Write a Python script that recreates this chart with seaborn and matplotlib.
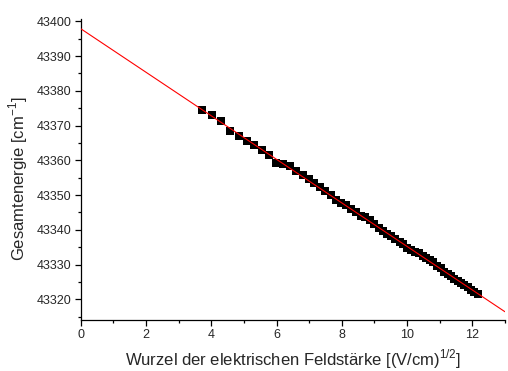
import numpy as np
import matplotlib
matplotlib.use('Agg')
import matplotlib.pyplot as plt
from matplotlib.ticker import MultipleLocator
import seaborn as sns

# measured points: sqrt of field strength vs. total energy
sqrt_field = [3.73, 4.02, 4.31, 4.58, 4.84, 5.08, 5.32, 5.55, 5.78, 5.99,
              6.20, 6.41, 6.61, 6.80, 6.98, 7.16, 7.33, 7.50, 7.67, 7.83,
              7.99, 8.14, 8.29, 8.44, 8.58, 8.72, 8.86, 9.00, 9.13, 9.26,
              9.39, 9.52, 9.64, 9.77, 9.89, 10.01, 10.13, 10.25, 10.36, 10.48,
              10.59, 10.70, 10.81, 10.92, 11.03, 11.14, 11.24, 11.35, 11.45, 11.55,
              11.66, 11.76, 11.86, 11.96, 12.06, 12.16]
energy = [43374.4, 43373.1, 43371.2, 43368.4, 43367.0, 43365.6, 43364.4, 43363.0, 43361.4, 43359.3,
          43359.0, 43358.3, 43356.9, 43355.8, 43354.5, 43353.6, 43352.3, 43351.2, 43349.9, 43348.6,
          43347.6, 43347.2, 43346.1, 43345.2, 43344.1, 43343.6, 43342.7, 43341.7, 43340.5, 43339.6,
          43338.9, 43338.1, 43337.4, 43336.5, 43335.8, 43334.8, 43334.2, 43333.5, 43333.2, 43332.6,
          43331.8, 43331.3, 43330.8, 43329.7, 43328.9, 43327.9, 43327.3, 43326.6, 43325.9, 43325.2,
          43324.6, 43324.0, 43323.5, 43322.7, 43322.2, 43321.5]

x, y = np.array(sqrt_field), np.array(energy)

# linear fit, drawn across the whole x range
slope, intercept = np.polyfit(x, y, 1)
x_fit = np.array([0, 13])
y_fit = intercept + slope * x_fit

sns.set_style('ticks')
plt.rcParams['font.family'] = ['Liberation Sans', 'DejaVu Sans']

fig = plt.figure(figsize=(5.08, 3.71), dpi=100)
ax = fig.add_axes([0.159, 0.137, 0.835, 0.811])

sns.scatterplot(x=x, y=y, marker='s', s=32, color='black', edgecolor='black',
                linewidth=0, ax=ax, zorder=2)
sns.lineplot(x=x_fit, y=y_fit, color='red', linewidth=0.8, ax=ax, zorder=3)

ax.set_xlim(0, 13)
ax.set_ylim(43314, 43400.6)
ax.xaxis.set_major_locator(MultipleLocator(2))
ax.xaxis.set_minor_locator(MultipleLocator(1))
ax.yaxis.set_major_locator(MultipleLocator(10))
ax.yaxis.set_minor_locator(MultipleLocator(5))
ax.ticklabel_format(axis='y', useOffset=False, style='plain')
ax.tick_params(which='major', direction='out', length=4, width=0.9, labelsize=9,
               pad=2.5, color='black')
ax.tick_params(which='minor', direction='out', length=2.5, width=0.9, color='black')
sns.despine(ax=ax)
for s in ['left', 'bottom']:
    ax.spines[s].set_linewidth(0.9)
    ax.spines[s].set_color('black')

ax.set_xlabel(r'Wurzel der elektrischen Feldstärke [(V/cm)$^{\mathregular{1/2}}$]', fontsize=12, labelpad=4.5)
ax.set_ylabel(r'Gesamtenergie [cm$^{\mathregular{-1}}$]', fontsize=12, labelpad=3)
ax.yaxis.set_label_coords(-0.12, 0.47)

fig.savefig('out.png', dpi=100)
plt.close()
